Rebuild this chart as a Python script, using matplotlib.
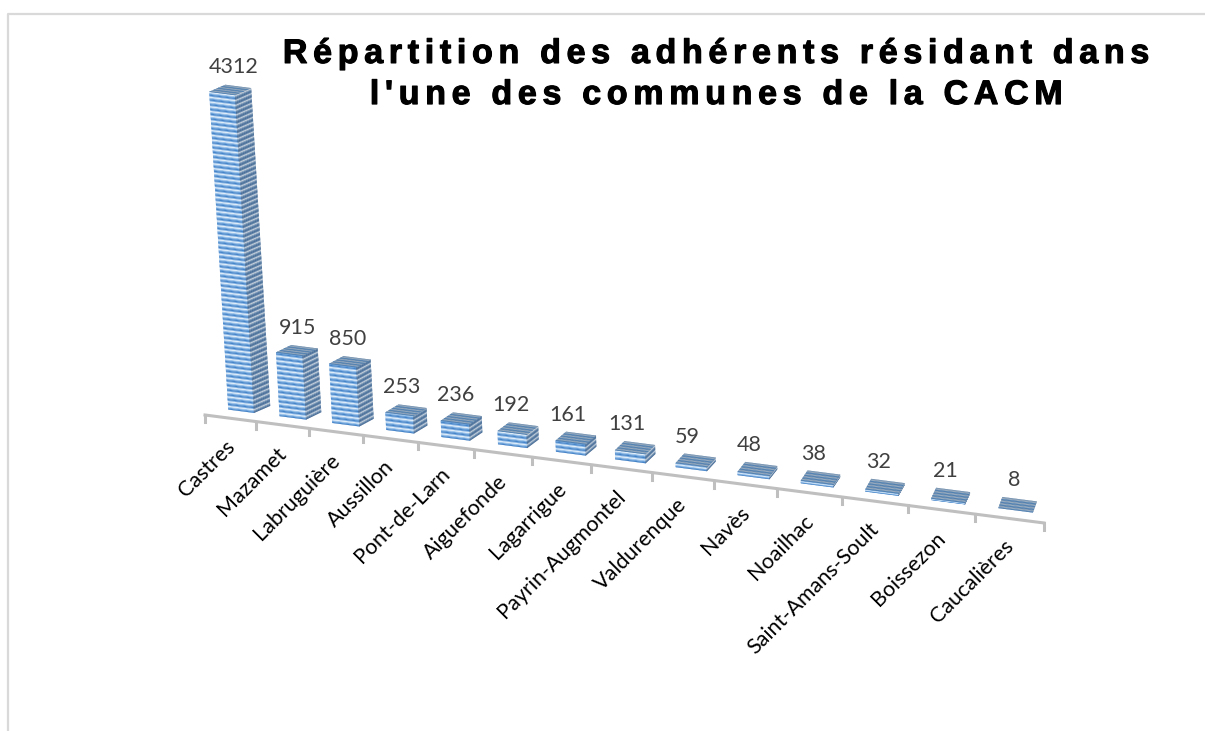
import matplotlib
matplotlib.use('Agg')
import matplotlib.pyplot as plt
import matplotlib.patheffects as pe
from matplotlib.collections import PolyCollection

communes = ['Castres', 'Mazamet', 'Labruguière', 'Aussillon', 'Pont-de-Larn', 'Aiguefonde',
            'Lagarrigue', 'Payrin-Augmontel', 'Valdurenque', 'Navès', 'Noailhac',
            'Saint-Amans-Soult', 'Boissezon', 'Caucalières']
adherents = [4312, 915, 850, 253, 236, 192, 161, 131, 59, 48, 38, 32, 21, 8]
title_lines = ["Répartition des adhérents résidant dans", "l'une des communes de la CACM"]

# colour cycles of the striped fill, one per face
FRONT = ['#3a7cc4', '#5f9ad8', '#9cc4ec', '#e6f1fb', '#82b2e4']
SIDE = ['#3d6390', '#4f769f', '#7f9ab8', '#c4ced9', '#5f83aa']
TOP = ['#3f73a8', '#5a86b3', '#98a9ba', '#6f8eae']


def axis_point(t):
    # position along the category axis, spacing grows towards the viewer
    x = 205 + 50.5 * t + 0.673 * t ** 2
    return x, 415 + 0.1287 * (x - 205)


def bar_height(v):
    return v * (0.0685 + 0.0000012 * v)


def stripes(corners, n, colors):
    # corners: bottom-left, bottom-right, top-right, top-left
    bl, br, tr, tl = corners
    polys, cols = [], []
    for k in range(n):
        a, b = k / n, (k + 1) / n
        polys.append([
            (bl[0] + (tl[0] - bl[0]) * a, bl[1] + (tl[1] - bl[1]) * a),
            (br[0] + (tr[0] - br[0]) * a, br[1] + (tr[1] - br[1]) * a),
            (br[0] + (tr[0] - br[0]) * b, br[1] + (tr[1] - br[1]) * b),
            (bl[0] + (tl[0] - bl[0]) * b, bl[1] + (tl[1] - bl[1]) * b),
        ])
        cols.append(colors[k % len(colors)])
    return polys, cols


def draw_bar(ax, i, value):
    frac = i / (len(adherents) - 1)
    offset = 0.46 - 0.12 * frac
    x0, y0 = axis_point(i + offset)
    x1, y1 = axis_point(i + offset + 0.5)
    y0 -= 8.5
    y1 -= 8.5
    dx, dy = 16 - 12 * frac, -7 - 4 * frac
    h = bar_height(value)
    lean = 0.06 * (1 - frac) * h

    fl, fr = (x0, y0), (x1, y1)
    br = (x1 + dx, y1 + dy)
    tfl = (x0 - lean, y0 - h)
    tfr = (x1 - lean, y1 - h)
    tbr = (x1 + dx - lean, y1 + dy - h)
    tbl = (x0 + dx - lean, y0 + dy - h)

    n = max(int(round(h / 0.95)), 5)
    for corners, colors in [((fl, fr, tfr, tfl), FRONT), ((fr, br, tbr, tfr), SIDE)]:
        if h < 1:
            continue
        polys, cols = stripes(corners, n, colors)
        ax.add_collection(PolyCollection(polys, facecolors=cols, edgecolors='face', linewidths=0.2, zorder=3))
    polys, cols = stripes((tfl, tfr, tbr, tbl), 16, TOP)
    ax.add_collection(PolyCollection(polys, facecolors=cols, edgecolors='face', linewidths=0.2, zorder=4))
    return (tbl[0] + tbr[0]) / 2, (tbl[1] + tbr[1]) / 2


def main():
    fig = plt.figure(figsize=(12.05, 7.31), dpi=100)
    ax = fig.add_axes([0, 0, 1, 1])
    ax.set_xlim(0, 1205)
    ax.set_ylim(731, 0)
    ax.axis('off')

    # chart frame, open on the right and at the bottom
    ax.plot([8, 8, 1205], [731, 14, 14], color='#d9d9d9', lw=1.6, zorder=1)

    n = len(communes)
    ax.plot(*zip(axis_point(0), axis_point(n)), color='#bfbfbf', lw=2.2, zorder=2)
    for t in range(n + 1):
        x, y = axis_point(t)
        ax.plot([x, x], [y, y + 7], color='#bfbfbf', lw=2.2, zorder=2)

    for i, (name, value) in enumerate(zip(communes, adherents)):
        cx, cy = draw_bar(ax, i, value)
        f = i / (n - 1)
        ax.text(cx - 5 - 32 * f * (1 - f), cy - 19, str(value), ha='center', va='center', fontsize=15.5,
                family='Lato', color='#404040')
        lx, ly = axis_point(i + 0.5)
        ax.text(lx + 1, ly + 25, name, rotation=45, rotation_mode='anchor', ha='right', va='center',
                fontsize=15.5, family='Lato', color='#000000')

    # letter-spaced title, hair spaces keep it a single text
    spaced = '\n'.join('\u200a\u200a'.join(line) for line in title_lines)
    ax.text(717, 75, spaced, ha='center', va='center', multialignment='center', fontsize=24.5,
            fontweight='bold', family=['Liberation Sans', 'DejaVu Sans'], color='#000000', linespacing=1.42,
            path_effects=[pe.withStroke(linewidth=0.8, foreground='#000000')])

    fig.savefig('out.png', dpi=100)
    plt.close(fig)


if __name__ == "__main__":
    main()
